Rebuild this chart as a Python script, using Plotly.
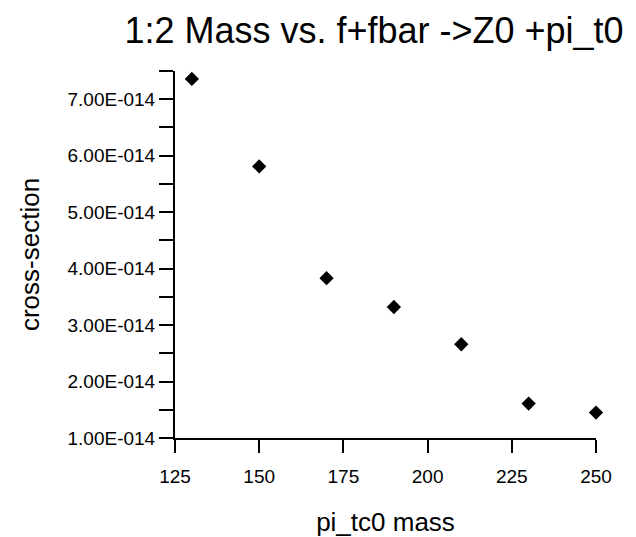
import plotly.graph_objects as go

# Data
pi_tc0_mass = [130, 150, 170, 190, 210, 230, 250]
cross_section = [7.36e-14, 5.81e-14, 3.83e-14, 3.32e-14, 2.66e-14, 1.61e-14, 1.45e-14]

x_tick_vals = [125, 150, 175, 200, 225, 250]
x_tick_text = ["125", "150", "175", "200", "225", "250"]
y_tick_vals = [1e-14, 2e-14, 3e-14, 4e-14, 5e-14, 6e-14, 7e-14]
y_tick_text = ["1.00E-014", "2.00E-014", "3.00E-014", "4.00E-014",
               "5.00E-014", "6.00E-014", "7.00E-014"]
y_minor_vals = [1.5e-14, 2.5e-14, 3.5e-14, 4.5e-14, 5.5e-14, 6.5e-14, 7.5e-14]

title_text = "1:2 Mass vs. f+fbar ->Z0 +pi_t0"
x_title = "pi_tc0 mass"
y_title = "cross-section"

FONT = "Liberation Sans, Arial, Helvetica, sans-serif"

# The page body adds an 8px offset; size the figure so it fits the window.
W, H = 628, 529

fig = go.Figure()
fig.add_trace(go.Scatter(
    x=pi_tc0_mass, y=cross_section, mode="markers",
    marker=dict(symbol="diamond", size=11, color="black"),
    cliponaxis=False, showlegend=False,
))

fig.update_layout(
    width=W, height=H,
    paper_bgcolor="white", plot_bgcolor="white",
    margin=dict(l=167, r=40, t=63, b=98.5),
    font=dict(family=FONT, color="black"),
    title=dict(text=title_text, font=dict(size=36, family=FONT, color="black"),
               xref="container", x=366 / W, xanchor="center",
               yref="container", y=1 - 22 / H, yanchor="middle"),
)

fig.update_xaxes(
    range=[125, 250], showgrid=False, zeroline=False, automargin=False,
    showline=True, linecolor="black", linewidth=2,
    ticks="outside", ticklen=13, tickwidth=1.5, tickcolor="black",
    tickvals=x_tick_vals, ticktext=x_tick_text,
    tickfont=dict(size=19, family=FONT, color="black"),
    ticklabelstandoff=7,
    title=dict(text=x_title, font=dict(size=26, family=FONT, color="black"), standoff=31),
)

fig.update_yaxes(
    range=[1e-14, 7.5e-14], showgrid=False, zeroline=False, automargin=False,
    showline=True, linecolor="black", linewidth=2,
    ticks="outside", ticklen=14, tickwidth=1.5, tickcolor="black",
    tickvals=y_tick_vals, ticktext=y_tick_text,
    tickfont=dict(size=19, family=FONT, color="black"),
    minor=dict(tickvals=y_minor_vals, ticks="outside", ticklen=14,
               tickwidth=1.5, tickcolor="black", showgrid=False),
    title=dict(text=y_title, font=dict(size=26, family=FONT, color="black"), standoff=20),
)

fig.write_html("out.html")
